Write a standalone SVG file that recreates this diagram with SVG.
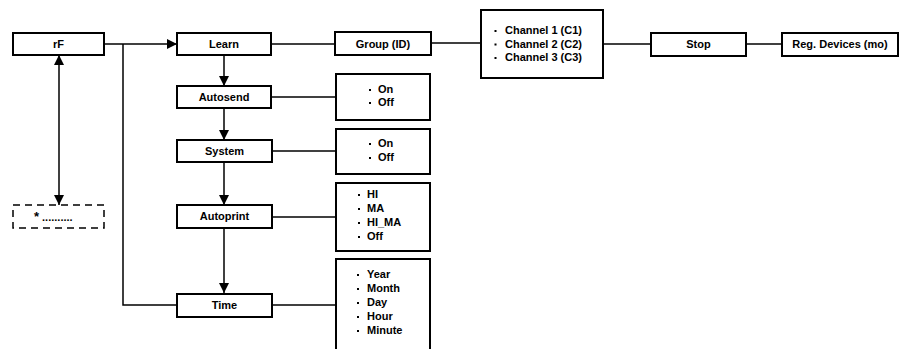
<svg xmlns="http://www.w3.org/2000/svg" width="899" height="349" viewBox="0 0 899 349">
<style>
.box{fill:#fff;stroke:#000;stroke-width:2}
.dash{fill:#fff;stroke:#000;stroke-width:1.5;stroke-dasharray:7 5}
.t{font-family:"Liberation Sans",Arial,sans-serif;font-weight:bold;font-size:11px;fill:#000}
.c{text-anchor:middle}
.ln{stroke:#000;stroke-width:1.5;fill:none}
.b{fill:#000}
</style>
<defs>
<marker id="ah" viewBox="0 0 10 10" refX="10" refY="5" markerWidth="10" markerHeight="10" markerUnits="userSpaceOnUse" orient="auto-start-reverse">
<path d="M0,0 L10,5 L0,10 Z" fill="#000"/>
</marker>
</defs>
<rect width="899" height="349" fill="#fff"/>
<g id="connectors">
<line class="ln" x1="104" y1="44" x2="177" y2="44" marker-end="url(#ah)"/>
<polyline class="ln" points="123,44 123,305 177,305"/>
<line class="ln" x1="59" y1="55" x2="59" y2="205" marker-start="url(#ah)" marker-end="url(#ah)"/>
<line class="ln" x1="224" y1="55" x2="224" y2="86" marker-end="url(#ah)"/>
<line class="ln" x1="224" y1="108" x2="224" y2="140" marker-end="url(#ah)"/>
<line class="ln" x1="224" y1="162" x2="224" y2="205" marker-end="url(#ah)"/>
<line class="ln" x1="224" y1="228" x2="224" y2="293" marker-end="url(#ah)"/>
<line class="ln" x1="271" y1="44" x2="335" y2="44"/>
<line class="ln" x1="431" y1="43" x2="481" y2="43"/>
<line class="ln" x1="603" y1="44" x2="651" y2="44"/>
<line class="ln" x1="746" y1="44" x2="782" y2="44"/>
<line class="ln" x1="271" y1="97" x2="336" y2="97"/>
<line class="ln" x1="272" y1="151" x2="336" y2="151"/>
<line class="ln" x1="272" y1="217" x2="336" y2="217"/>
<line class="ln" x1="272" y1="305" x2="336" y2="305"/>
</g>
<g id="rF"><rect class="box" x="13" y="33" width="91" height="22"/><text class="t c" x="58.5" y="48">rF</text></g>
<g id="placeholder"><rect class="dash" x="13" y="205" width="91" height="23"/><text class="t" x="34" y="221"><tspan font-size="13px">*</tspan><tspan dx="3">..........</tspan></text></g>
<g id="learn"><rect class="box" x="177" y="33" width="94" height="22"/><text class="t c" x="224" y="48">Learn</text></g>
<g id="autosend"><rect class="box" x="177" y="86" width="94" height="22"/><text class="t c" x="224" y="101">Autosend</text></g>
<g id="system"><rect class="box" x="177" y="140" width="95" height="22"/><text class="t c" x="224.5" y="155">System</text></g>
<g id="autoprint"><rect class="box" x="177" y="205" width="95" height="23"/><text class="t c" x="224.5" y="220">Autoprint</text></g>
<g id="time"><rect class="box" x="177" y="294" width="95" height="23"/><text class="t c" x="224.5" y="309">Time</text></g>
<g id="group"><rect class="box" x="335" y="32" width="96" height="23"/><text class="t c" x="383" y="48">Group (ID)</text></g>
<g id="channels"><rect class="box" x="481" y="10" width="122" height="68"/>
<rect class="b" x="494.5" y="30" width="2" height="2"/><text class="t" x="505" y="34">Channel 1 (C1)</text>
<rect class="b" x="494.5" y="43.5" width="2" height="2"/><text class="t" x="505" y="47.5">Channel 2 (C2)</text>
<rect class="b" x="494.5" y="57" width="2" height="2"/><text class="t" x="505" y="61">Channel 3 (C3)</text></g>
<g id="stop"><rect class="box" x="651" y="33" width="95" height="23"/><text class="t c" x="698.5" y="48">Stop</text></g>
<g id="regdevices"><rect class="box" x="782" y="33" width="116" height="23"/><text class="t c" x="840" y="48">Reg. Devices (mo)</text></g>
<g id="autosend-opts"><rect class="box" x="336" y="74" width="94" height="46"/>
<rect class="b" x="369" y="89" width="2" height="2"/><text class="t" x="378" y="93">On</text>
<rect class="b" x="369" y="102" width="2" height="2"/><text class="t" x="378" y="106">Off</text></g>
<g id="system-opts"><rect class="box" x="336" y="129" width="94" height="45"/>
<rect class="b" x="369" y="143" width="2" height="2"/><text class="t" x="378" y="147">On</text>
<rect class="b" x="369" y="157" width="2" height="2"/><text class="t" x="378" y="161">Off</text></g>
<g id="autoprint-opts"><rect class="box" x="336" y="183" width="94" height="68"/>
<rect class="b" x="358" y="194" width="2" height="2"/><text class="t" x="367" y="198">HI</text>
<rect class="b" x="358" y="208" width="2" height="2"/><text class="t" x="367" y="212">MA</text>
<rect class="b" x="358" y="222" width="2" height="2"/><text class="t" x="367" y="226">HI_MA</text>
<rect class="b" x="358" y="236" width="2" height="2"/><text class="t" x="367" y="240">Off</text></g>
<g id="time-opts"><rect class="box" x="336" y="259" width="94" height="100"/>
<rect class="b" x="357" y="274" width="2" height="2"/><text class="t" x="367" y="278">Year</text>
<rect class="b" x="357" y="288" width="2" height="2"/><text class="t" x="367" y="292">Month</text>
<rect class="b" x="357" y="302" width="2" height="2"/><text class="t" x="367" y="306">Day</text>
<rect class="b" x="357" y="316" width="2" height="2"/><text class="t" x="367" y="320">Hour</text>
<rect class="b" x="357" y="330" width="2" height="2"/><text class="t" x="367" y="334">Minute</text></g>
</svg>
